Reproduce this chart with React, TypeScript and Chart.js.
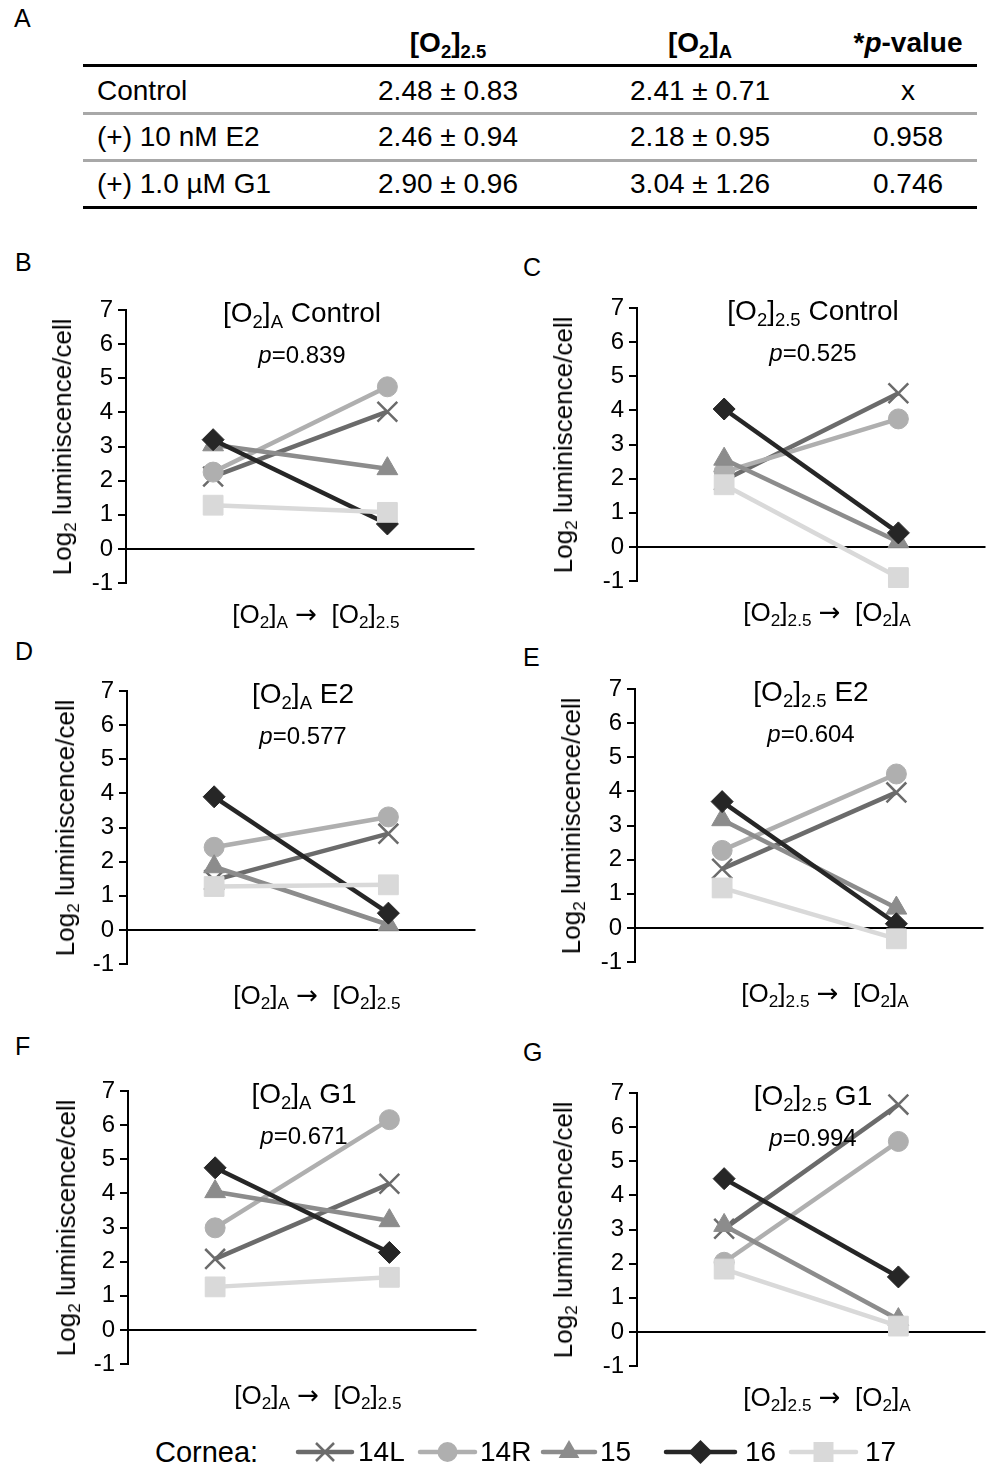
import React, { useEffect, useRef } from "react";
import { Chart, registerables } from "chart.js";

Chart.register(...registerables);

const FONT = '"Liberation Sans", Arial, Helvetica, sans-serif';

// ---------- Table A ----------
const tableRowLabels = ["Control", "(+) 10 nM E2", "(+) 1.0 µM G1"];
const tableO2_25 = ["2.48 ± 0.83", "2.46 ± 0.94", "2.90 ± 0.96"];
const tableO2_A = ["2.41 ± 0.71", "2.18 ± 0.95", "3.04 ± 1.26"];
const tablePValues = ["x", "0.958", "0.746"];

// ---------- Series ----------
const corneas = ["14L", "14R", "15", "16", "17"];
const seriesColors = ["#6b6b6b", "#afafaf", "#8c8c8c", "#262626", "#d9d9d9"];
const pointStyles = ["crossRot", "circle", "triangle", "rectRot", "rect"];
const pointRadii = [14, 10, 12, 11, 14];
const yMin = -1;
const yMax = 7;

// values per cornea (14L, 14R, 15, 16, 17): first condition, second condition
const bStart = [2.12, 2.25, 3.05, 3.2, 1.28];
const bEnd = [4.02, 4.75, 2.35, 0.73, 1.07];
const cStart = [1.95, 2.2, 2.57, 4.04, 1.82];
const cEnd = [4.5, 3.75, 0.15, 0.41, -0.9];
const dStart = [1.46, 2.42, 1.85, 3.9, 1.27];
const dEnd = [2.82, 3.31, 0.15, 0.49, 1.32];
const eStart = [1.73, 2.27, 3.17, 3.7, 1.17];
const eEnd = [3.97, 4.51, 0.58, 0.12, -0.32];
const fStart = [2.08, 2.99, 4.05, 4.75, 1.26];
const fEnd = [4.28, 6.16, 3.2, 2.27, 1.54];
const gStart = [3.02, 2.04, 3.12, 4.49, 1.84];
const gEnd = [6.66, 5.58, 0.36, 1.61, 0.17];

const pB = "0.839";
const pC = "0.525";
const pD = "0.577";
const pE = "0.604";
const pF = "0.671";
const pG = "0.994";

// ---------- layout ----------
const AXW = 60; // y axis box width
const PAD = 22;
const PW = 365; // plot width
const PH = 273; // plot height

type PanelDef = {
  letter: string;
  letterX: number;
  letterY: number;
  first: string; // "A" or "2.5"
  second: string;
  cond: string;
  p: string;
  start: number[];
  end: number[];
  axisX: number;
  y7: number;
  yTitleOff: number;
};

const panels: PanelDef[] = [
  { letter: "B", letterX: 15, letterY: 262, first: "A", second: "2.5", cond: "Control", p: pB, start: bStart, end: bEnd, axisX: 126, y7: 310, yTitleOff: 64 },
  { letter: "C", letterX: 523, letterY: 267, first: "2.5", second: "A", cond: "Control", p: pC, start: cStart, end: cEnd, axisX: 637, y7: 308, yTitleOff: 74 },
  { letter: "D", letterX: 15, letterY: 651, first: "A", second: "2.5", cond: "E2", p: pD, start: dStart, end: dEnd, axisX: 127, y7: 691, yTitleOff: 62 },
  { letter: "E", letterX: 523, letterY: 657, first: "2.5", second: "A", cond: "E2", p: pE, start: eStart, end: eEnd, axisX: 635, y7: 689, yTitleOff: 64 },
  { letter: "F", letterX: 15, letterY: 1046, first: "A", second: "2.5", cond: "G1", p: pF, start: fStart, end: fEnd, axisX: 128, y7: 1091, yTitleOff: 62 },
  { letter: "G", letterX: 523, letterY: 1052, first: "2.5", second: "A", cond: "G1", p: pG, start: gStart, end: gEnd, axisX: 637, y7: 1093, yTitleOff: 74 },
];

const Sub = ({ children }: { children: React.ReactNode }) => (
  <span style={{ fontSize: "0.66em", position: "relative", top: "0.32em" }}>{children}</span>
);

const O2 = ({ s }: { s: string }) => (
  <span>
    [O<Sub>2</Sub>]<Sub>{s}</Sub>
  </span>
);

function makeConfig(start: number[], end: number[], first: string, second: string): any {
  return {
    type: "line",
    data: {
      labels: [`[O2]${first}`, `[O2]${second}`],
      datasets: corneas.map((c, i) => ({
        label: c,
        data: [start[i], end[i]],
        borderColor: seriesColors[i],
        backgroundColor: seriesColors[i],
        borderWidth: 4.5,
        pointStyle: pointStyles[i],
        pointRadius: pointRadii[i],
        pointBorderWidth: i === 0 ? 2.5 : 1,
        pointBackgroundColor: seriesColors[i],
        pointBorderColor: seriesColors[i],
        order: corneas.length - i,
        clip: false,
        tension: 0,
      })),
    },
    options: {
      responsive: false,
      animation: false,
      events: [],
      layout: { padding: { top: PAD, bottom: PAD, left: 0, right: 0 } },
      plugins: {
        legend: { display: false },
        tooltip: { enabled: false },
        title: { display: false },
      },
      scales: {
        x: { type: "category", offset: true, display: false },
        y: {
          min: yMin,
          max: yMax,
          ticks: {
            stepSize: 1,
            autoSkip: false,
            color: "#000",
            padding: 5,
            font: { family: FONT, size: 24 },
          },
          grid: {
            color: (ctx: any) => (ctx.tick && ctx.tick.value === 0 ? "#000" : "rgba(0,0,0,0)"),
            tickColor: "#000",
            tickLength: 8,
            lineWidth: 2,
            drawTicks: true,
          },
          border: { display: true, color: "#000", width: 2 },
          afterFit: (scale: any) => {
            scale.width = AXW;
          },
        },
      },
    },
  };
}

const Arrow = () => (
  <span style={{ fontFamily: '"DejaVu Sans", sans-serif', fontSize: "1em" }}>→</span>
);

function Panel({ d }: { d: PanelDef }) {
  const ref = useRef<HTMLCanvasElement>(null);
  useEffect(() => {
    const chart = new Chart(ref.current as HTMLCanvasElement, makeConfig(d.start, d.end, d.first, d.second));
    return () => chart.destroy();
  }, []);
  const left = d.axisX - AXW;
  const top = d.y7 - PAD;
  const W = AXW + PW;
  const H = PH + 2 * PAD;
  const center = (x: number, y: number, size: number, extra: any = {}) => ({
    position: "absolute" as const,
    left: x,
    top: y,
    transform: "translate(-50%, -50%)",
    fontSize: size,
    lineHeight: 1,
    whiteSpace: "nowrap" as const,
    ...extra,
  });
  return (
    <>
      <canvas
        ref={ref}
        width={W}
        height={H}
        style={{ position: "absolute", left, top, width: W, height: H }}
      />
      <div style={{ position: "absolute", left: d.letterX, top: d.letterY, transform: "translateY(-50%)", fontSize: 25, lineHeight: 1 }}>
        {d.letter}
      </div>
      <div style={center(d.axisX + 176, d.y7 + 3, 28)}>
        <O2 s={d.first} /> {d.cond}
      </div>
      <div style={center(d.axisX + 176, d.y7 + 45, 24)}>
        <i>p</i>=<span>{d.p}</span>
      </div>
      <div style={center(d.axisX + 190, d.y7 + PH + 31, 26)}>
        <O2 s={d.first} /> <Arrow />&nbsp; <O2 s={d.second} />
      </div>
      <div style={center(d.axisX - d.yTitleOff, d.y7 + PH / 2, 26, { transform: "translate(-50%, -50%) rotate(-90deg)" })}>
        Log<Sub>2</Sub> luminiscence/cell
      </div>
    </>
  );
}

function Table() {
  const rowYs = [91, 137, 184];
  const colXs = [448, 700, 908];
  const rule = (y: number, color: string) => (
    <div style={{ position: "absolute", left: 83, width: 894, top: y - 1.5, height: 3, background: color }} />
  );
  const cell = (x: number, y: number, content: React.ReactNode, bold = false) => (
    <div
      style={{
        position: "absolute",
        left: x,
        top: y,
        transform: "translate(-50%, -50%)",
        fontSize: 28,
        lineHeight: 1,
        whiteSpace: "nowrap",
        fontWeight: bold ? "bold" : "normal",
      }}
    >
      {content}
    </div>
  );
  return (
    <>
      <div style={{ position: "absolute", left: 14, top: 18, transform: "translateY(-50%)", fontSize: 25, lineHeight: 1 }}>A</div>
      {cell(colXs[0], 43, <O2 s="2.5" />, true)}
      {cell(colXs[1], 43, <O2 s="A" />, true)}
      {cell(colXs[2], 43, <span>*<i>p</i>-value</span>, true)}
      {rule(65, "#000")}
      {rule(113, "#a8a8a8")}
      {rule(160, "#a8a8a8")}
      {rule(207, "#000")}
      {tableRowLabels.map((t, i) => (
        <div key={"l" + i} style={{ position: "absolute", left: 97, top: rowYs[i], transform: "translateY(-50%)", fontSize: 28, lineHeight: 1, whiteSpace: "nowrap" }}>
          {t}
        </div>
      ))}
      {tableO2_25.map((t, i) => <React.Fragment key={"a" + i}>{cell(colXs[0], rowYs[i], t)}</React.Fragment>)}
      {tableO2_A.map((t, i) => <React.Fragment key={"b" + i}>{cell(colXs[1], rowYs[i], t)}</React.Fragment>)}
      {tablePValues.map((t, i) => <React.Fragment key={"c" + i}>{cell(colXs[2], rowYs[i], t)}</React.Fragment>)}
    </>
  );
}

function Legend() {
  const cy = 1452;
  const items = [
    { l: 298, r: 352, t: 358 },
    { l: 420, r: 475, t: 480 },
    { l: 543, r: 595, t: 600 },
    { l: 666, r: 735, t: 745 },
    { l: 791, r: 856, t: 865 },
  ];
  const marker = (i: number, cx: number) => {
    const c = seriesColors[i];
    switch (pointStyles[i]) {
      case "crossRot":
        return (
          <g stroke={c} strokeWidth={2.5}>
            <line x1={cx - 9} y1={cy - 9} x2={cx + 9} y2={cy + 9} />
            <line x1={cx - 9} y1={cy + 9} x2={cx + 9} y2={cy - 9} />
          </g>
        );
      case "circle":
        return <circle cx={cx} cy={cy} r={10} fill={c} />;
      case "triangle":
        return <polygon points={`${cx},${cy - 12} ${cx + 10.4},${cy + 6} ${cx - 10.4},${cy + 6}`} fill={c} />;
      case "rectRot":
        return <polygon points={`${cx},${cy - 12} ${cx + 12},${cy} ${cx},${cy + 12} ${cx - 12},${cy}`} fill={c} />;
      default:
        return <rect x={cx - 10} y={cy - 10} width={20} height={20} fill={c} />;
    }
  };
  return (
    <>
      <svg width={994} height={60} viewBox={`0 ${cy - 30} 994 60`} style={{ position: "absolute", left: 0, top: cy - 30 }}>
        {items.map((it, i) => (
          <g key={i}>
            <line x1={it.l} y1={cy} x2={it.r} y2={cy} stroke={seriesColors[i]} strokeWidth={4.5} strokeLinecap="round" />
            {marker(i, (it.l + it.r) / 2)}
          </g>
        ))}
      </svg>
      <div style={{ position: "absolute", left: 155, top: cy, transform: "translateY(-50%)", fontSize: 29, lineHeight: 1 }}>Cornea:</div>
      {items.map((it, i) => (
        <div key={i} style={{ position: "absolute", left: it.t, top: cy, transform: "translateY(-50%)", fontSize: 28, lineHeight: 1 }}>
          {corneas[i]}
        </div>
      ))}
    </>
  );
}

export default function App() {
  return (
    <div
      style={{
        position: "absolute",
        left: 0,
        top: 0,
        width: 994,
        height: 1468,
        overflow: "hidden",
        background: "#fff",
        fontFamily: FONT,
        color: "#000",
      }}
    >
      <Table />
      {panels.map((d) => (
        <Panel key={d.letter} d={d} />
      ))}
      <Legend />
    </div>
  );
}
